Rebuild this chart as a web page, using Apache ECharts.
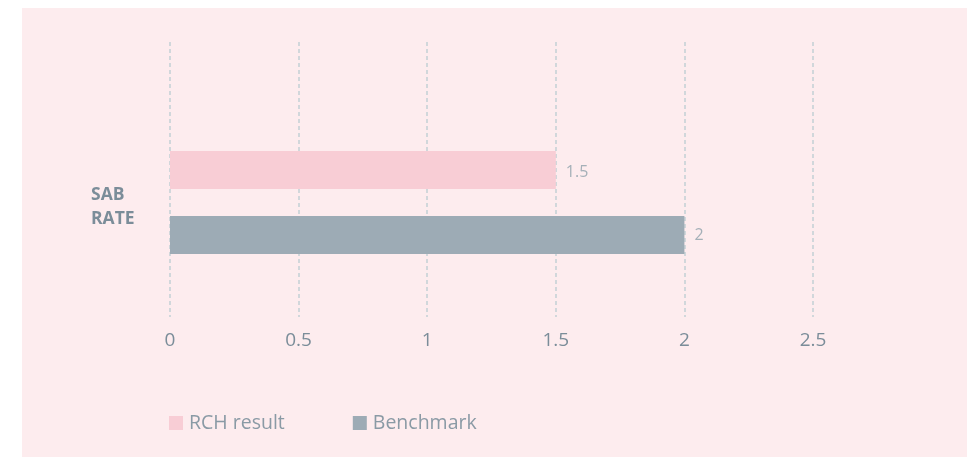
<!DOCTYPE html>
<html>
<head>
<meta charset="utf-8">
<script src="https://cdn.jsdelivr.net/npm/echarts@6/dist/echarts.min.js"></script>
<style>
  html, body { margin: 0; padding: 0; background: #fff; }
  #main { width: 967px; height: 457px; }
</style>
</head>
<body>
<div id="main"></div>
<script>
// data
const categories = ['SAB\nRATE'];
const seriesNames = ['RCH result', 'Benchmark'];
const rchValues = [1.5];
const benchmarkValues = [2];
const tickMin = 0;
const tickMax = 2.5;
const tickStep = 0.5;

const pink = '#f8cdd5';
const grey = '#9dabb5';
const font = '"Open Sans", "Noto Sans", sans-serif';

const myChart = echarts.init(document.getElementById('main'));

myChart.setOption({
  backgroundColor: '#ffffff',
  animation: false,
  graphic: [{
    type: 'rect',
    z: -10,
    silent: true,
    shape: { x: 22, y: 8, width: 945, height: 449 },
    style: { fill: '#fdecee' }
  }],
  legend: {
    left: 169,
    top: 413,
    padding: 0,
    itemWidth: 14,
    itemHeight: 14,
    itemGap: 68,
    icon: 'rect',
    data: seriesNames,
    textStyle: { color: '#8a9aa5', fontSize: 19.5, fontFamily: font, padding: [0, 0, 0, 1] }
  },
  grid: [
    // grid for the axis and dashed split lines
    { left: 170, right: 154, top: 42, bottom: 140 },
    // grid for the bars
    { left: 170, right: 154, top: 151, bottom: 203 }
  ],
  xAxis: [
    {
      gridIndex: 0,
      type: 'value',
      min: tickMin,
      max: tickMax,
      interval: tickStep,
      axisLine: { show: false },
      axisTick: { show: false },
      axisLabel: { color: '#7b8d99', fontSize: 19, fontFamily: font, margin: 14 },
      splitLine: { lineStyle: { color: '#c2d0d5', type: [4, 3], width: 1.5 } }
    },
    {
      gridIndex: 1,
      type: 'value',
      min: tickMin,
      max: tickMax,
      show: false
    }
  ],
  yAxis: [
    { gridIndex: 0, type: 'category', data: [''], show: false },
    {
      gridIndex: 1,
      type: 'category',
      data: categories,
      axisLine: { show: false },
      axisTick: { show: false },
      axisLabel: {
        align: 'left',
        margin: 79,
        // small empty first line nudges the two text lines down
        formatter: function (v) {
          return '{s|}\n' + v.split('\n').map(function (p) { return '{t|' + p + '}'; }).join('\n');
        },
        rich: {
          s: { lineHeight: 9, height: 9 },
          t: {
            color: '#7b8d99',
            fontSize: 17.5,
            fontWeight: 'bold',
            lineHeight: 24,
            fontFamily: font
          }
        }
      }
    }
  ],
  series: [
    {
      name: seriesNames[0],
      type: 'bar',
      xAxisIndex: 1,
      yAxisIndex: 1,
      data: rchValues,
      barWidth: 38,
      barGap: '71%',
      itemStyle: { color: pink },
      label: {
        show: true, position: 'right', distance: 10,
        formatter: '{s|}\n{v|{c}}',
        rich: {
          s: { lineHeight: 4, height: 4 },
          v: { color: '#a5b0b8', fontSize: 16, lineHeight: 20, fontFamily: font }
        }
      }
    },
    {
      name: seriesNames[1],
      type: 'bar',
      xAxisIndex: 1,
      yAxisIndex: 1,
      data: benchmarkValues,
      barWidth: 38,
      itemStyle: { color: grey },
      label: { show: true, position: 'right', distance: 10, color: '#a5b0b8', fontSize: 16, fontFamily: font }
    }
  ]
});
</script>
</body>
</html>
